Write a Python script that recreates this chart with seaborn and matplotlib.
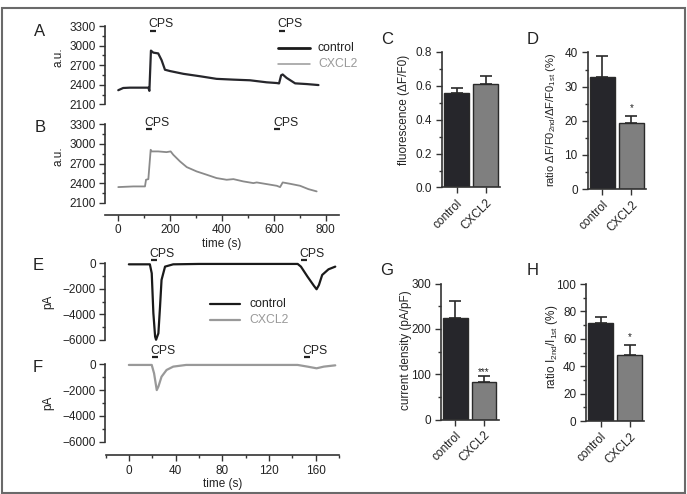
import numpy as np
import pandas as pd
import matplotlib
matplotlib.use('Agg')
import matplotlib.pyplot as plt
import matplotlib.transforms as mtransforms
import seaborn as sns
from matplotlib.ticker import MultipleLocator
from matplotlib.lines import Line2D
from matplotlib.patches import Rectangle

# ---------------- data ----------------
# Panel A: Ca imaging trace, control (time s, a.u.)
a_t = [0, 19, 45, 116, 120, 126, 135, 154, 167, 180, 199, 251, 315, 379, 444, 508,
       572, 611, 620, 628, 634, 649, 682, 727, 772]
a_v = [2316, 2350, 2355, 2355, 2306, 2923, 2892, 2880, 2777, 2630, 2610, 2567, 2530,
       2490, 2478, 2468, 2437, 2426, 2420, 2545, 2557, 2505, 2421, 2410, 2395]
# Panel B: Ca imaging trace, CXCL2
b_t = [0, 58, 103, 107, 116, 125, 129, 154, 186, 202, 212, 238, 264, 302, 341, 379,
       418, 444, 482, 521, 534, 572, 611, 624, 634, 662, 701, 733, 765]
b_v = [2339, 2349, 2349, 2451, 2461, 2910, 2885, 2885, 2874, 2885, 2834, 2732, 2645,
       2579, 2528, 2477, 2451, 2461, 2426, 2400, 2410, 2385, 2359, 2339, 2410, 2390,
       2359, 2308, 2273]
# Panel E: current trace, control (time s, pA)
e_t = [0, 18, 19.6, 21, 22.5, 23.3, 25.3, 26.7, 28, 31, 38, 60, 144.6, 147.4, 153,
       158.6, 160.8, 162.8, 165.6, 171, 176.8]
e_v = [-80, -80, -780, -3900, -5740, -5980, -5480, -3400, -1300, -260, -80, -50, -50,
       -260, -1040, -1770, -2030, -1700, -910, -470, -260]
# Panel F: current trace, CXCL2
f_t = [0, 19.6, 21.6, 23.9, 25.3, 28, 32.3, 38, 49, 144.6, 153, 160.8, 167, 176.8]
f_v = [-50, -50, -700, -2000, -1730, -960, -440, -180, -50, -50, -180, -310, -180, -80]

groups = ['control', 'CXCL2']
c_mean = [0.558, 0.613]
c_err = [0.027, 0.045]
d_mean = [32.9, 19.3]
d_err = [6.0, 2.2]
g_mean = [225, 83]
g_err = [37, 12]
h_mean = [71.4, 48.3]
h_err = [4.3, 7.2]

# ---------------- style ----------------
sns.set_theme(style='ticks')
plt.rcParams['font.family'] = ['Liberation Sans', 'DejaVu Sans']
plt.rcParams['mathtext.fontset'] = 'custom'
plt.rcParams['mathtext.rm'] = 'Liberation Sans'
plt.rcParams['mathtext.it'] = 'Liberation Sans:italic'
plt.rcParams['mathtext.default'] = 'regular'

W, H = 687, 494
fig = plt.figure(figsize=(W / 100, H / 100), dpi=100)
fig.patch.set_facecolor('white')

AX_COL = '#333333'
DARK = '#26262b'
GRAY = '#8a8a8a'
BAR_GRAY = '#7f7f7f'


def add_ax(l, t, r, b):
    return fig.add_axes([l / W, 1 - b / H, (r - l) / W, (b - t) / H])


def to_ax(ax, px, py):
    bb = ax.get_position()
    return ((px / W - bb.x0) / bb.width, ((1 - py / H) - bb.y0) / bb.height)


def style(ax, show_x=True):
    sns.despine(ax=ax)
    ax.set_facecolor('none')
    for s in ['left', 'bottom']:
        ax.spines[s].set_color(AX_COL)
        ax.spines[s].set_linewidth(1.2)
    ax.tick_params(which='both', direction='out', color=AX_COL, width=1,
                   labelsize=8.5, labelcolor='#222222', pad=3)
    ax.tick_params(which='major', length=4)
    ax.tick_params(which='minor', length=2)
    if not show_x:
        ax.spines['bottom'].set_visible(False)
        ax.tick_params(axis='x', which='both', bottom=False, labelbottom=False)
    ax.grid(False)


def cps(ax, t_text, t0, t1, y_text, y_bar):
    tr = mtransforms.blended_transform_factory(ax.transData, ax.transAxes)
    ax.text(t_text, y_text, 'CPS', transform=tr, ha='left', va='baseline',
            fontsize=8.8, color='#222222', clip_on=False)
    ax.plot([t0, t1], [y_bar, y_bar], transform=tr, color='#222222', lw=1.6,
            clip_on=False, solid_capstyle='butt')


def set_ylab(ax, text, px, py, size=8.5):
    ax.set_ylabel(text, fontsize=size, color='#222222')
    x, y = to_ax(ax, px, py)
    ax.yaxis.set_label_coords(x, y)


# ---------------- trace panels ----------------
axA = add_ax(105.3, 26, 338.7, 104.3)
axB = add_ax(105.3, 124.3, 338.7, 202.7)
axE = add_ax(105.5, 263.3, 339, 340)
axF = add_ax(105.5, 364.3, 339, 441.7)

sns.lineplot(x=a_t, y=a_v, ax=axA, color=DARK, lw=1.6, estimator=None)
sns.lineplot(x=b_t, y=b_v, ax=axB, color=GRAY, lw=1.3, estimator=None)
sns.lineplot(x=e_t, y=e_v, ax=axE, color='#1a1a1a', lw=1.6, estimator=None)
sns.lineplot(x=f_t, y=f_v, ax=axF, color='#999999', lw=1.6, estimator=None)

for ax in (axA, axB):
    ax.set_xlim(-50, 850)
    ax.set_ylim(2100, 3300)
    ax.yaxis.set_major_locator(MultipleLocator(300))
    ax.yaxis.set_minor_locator(MultipleLocator(150))
    ax.xaxis.set_major_locator(MultipleLocator(200))
    ax.xaxis.set_minor_locator(MultipleLocator(100))
style(axA, show_x=False)
style(axB)
axB.spines['bottom'].set_position(('outward', 8.5))
axB.set_xlabel('time (s)', fontsize=8.5, color='#222222', labelpad=1)

for ax in (axE, axF):
    ax.set_xlim(-20, 180)
    ax.set_ylim(-6000, 0)
    ax.yaxis.set_major_locator(MultipleLocator(2000))
    ax.yaxis.set_minor_locator(MultipleLocator(1000))
    ax.xaxis.set_major_locator(MultipleLocator(40))
    ax.xaxis.set_minor_locator(MultipleLocator(20))
style(axE, show_x=False)
style(axF)
axF.spines['bottom'].set_position(('outward', 9.5))
axF.set_xlabel('time (s)', fontsize=8.5, color='#222222', labelpad=1)
for ln in axE.lines + axF.lines:
    ln.set_clip_on(False)

for ax, p in ((axA, (65, 57)), (axB, (65, 156))):
    set_ylab(ax, 'a.u.', *p)
for ax, p in ((axE, (54, 302)), (axF, (54, 403))):
    set_ylab(ax, 'pA', *p)

cps(axA, 115.8, 122, 145, 0.991, 0.94)
cps(axA, 615, 621, 643, 0.991, 0.94)
cps(axB, 99, 106, 129, 0.978, 0.936)
cps(axB, 598, 602, 624, 0.978, 0.936)
cps(axE, 17.3, 18.7, 23.9, 1.086, 1.043)
cps(axE, 146, 147.5, 152.3, 1.086, 1.043)
cps(axF, 18.7, 20.1, 25.2, 1.133, 1.09)
cps(axF, 148.9, 150, 155.2, 1.133, 1.09)

# legends (figure pixel positions)
def leg(x0, x1, xt, y_ctrl, y_cx, lw_ctrl, lw_cx):
    fig.add_artist(Line2D([x0 / W, x1 / W], [1 - y_ctrl / H] * 2, color='#1a1a1a', lw=lw_ctrl))
    fig.add_artist(Line2D([x0 / W, x1 / W], [1 - y_cx / H] * 2, color='#999999', lw=lw_cx))
    fig.text(xt / W, 1 - y_ctrl / H, 'control', fontsize=8.8, color='#222222', va='center')
    fig.text(xt / W, 1 - y_cx / H, 'CXCL2', fontsize=8.8, color='#999999', va='center')

leg(278, 310, 318, 47.7, 64, 2.0, 1.1)
leg(210, 240, 249, 304.3, 320, 1.6, 1.6)

# ---------------- bar panels ----------------
def bars(box, means, errs, ylim, major, minor, ylabel, lab_px, star=None, star_y=None,
         ylsize=8.5):
    ax = add_ax(*box)
    df = pd.DataFrame({'group': groups, 'value': means})
    sns.barplot(data=df, x='group', y='value', hue='group', palette=[DARK, BAR_GRAY],
                width=0.85, edgecolor='#2a2a2a', linewidth=1.0, errorbar=None,
                legend=False, ax=ax, saturation=1)
    ax.errorbar([0, 1], means, yerr=[[0, 0], errs], fmt='none', ecolor='#2a2a2a',
                elinewidth=1.2, capsize=4, capthick=1.2, zorder=1)
    ax.set_xlim(-0.5, 1.5)
    ax.set_ylim(*ylim)
    ax.yaxis.set_major_locator(MultipleLocator(major))
    ax.yaxis.set_minor_locator(MultipleLocator(minor))
    style(ax)
    ax.set_xlabel('')
    ax.set_xticks([0, 1])
    ax.set_xticklabels(groups, rotation=45, ha='right', va='top',
                       rotation_mode='anchor', fontsize=8.5)
    if ylim[1] < 1:
        ax.yaxis.set_major_formatter(matplotlib.ticker.FormatStrFormatter('%.1f'))
    set_ylab(ax, ylabel, *lab_px, size=ylsize)
    if star:
        ax.text(1, star_y, star, ha='center', va='center', fontsize=7, color='#222222')
    return ax

axC = bars((442, 52, 500, 187.5), c_mean, c_err, (0, 0.8), 0.2, 0.1,
           'fluorescence (ΔF/F0)', (410, 110))
axD = bars((587.5, 52.5, 646, 189), d_mean, d_err, (0, 40), 10, 5,
           r'ratio ΔF/F0$_{2nd}$/ΔF/F0$_{1st}$ (%)', (558, 120), '*', 23.6, ylsize=8)
axG = bars((441, 283.5, 498.5, 419.5), g_mean, g_err, (0, 300), 100, 50,
           'current density (pA/pF)', (412, 350), '***', 105)
axH = bars((586, 284, 644, 421), h_mean, h_err, (0, 100), 20, 10,
           r'ratio I$_{2nd}$/I$_{1st}$ (%)', (560, 347), '*', 61.5)

# ---------------- panel letters ----------------
for letter, (px, py) in {'A': (40, 31), 'B': (40, 127), 'C': (387, 40), 'D': (533, 40),
                         'E': (38, 266), 'F': (38, 367), 'G': (387, 270),
                         'H': (533, 270)}.items():
    fig.text(px / W, 1 - py / H, letter, fontsize=12, ha='center', va='center',
             color='#222222')

# outer frame
fig.add_artist(Rectangle((1.5 / W, 1 - 492.5 / H), 683.5 / W, 484.5 / H,
                         transform=fig.transFigure, fill=False, ec='#6a6a6a', lw=1.5))

fig.savefig('out.png', dpi=100)
